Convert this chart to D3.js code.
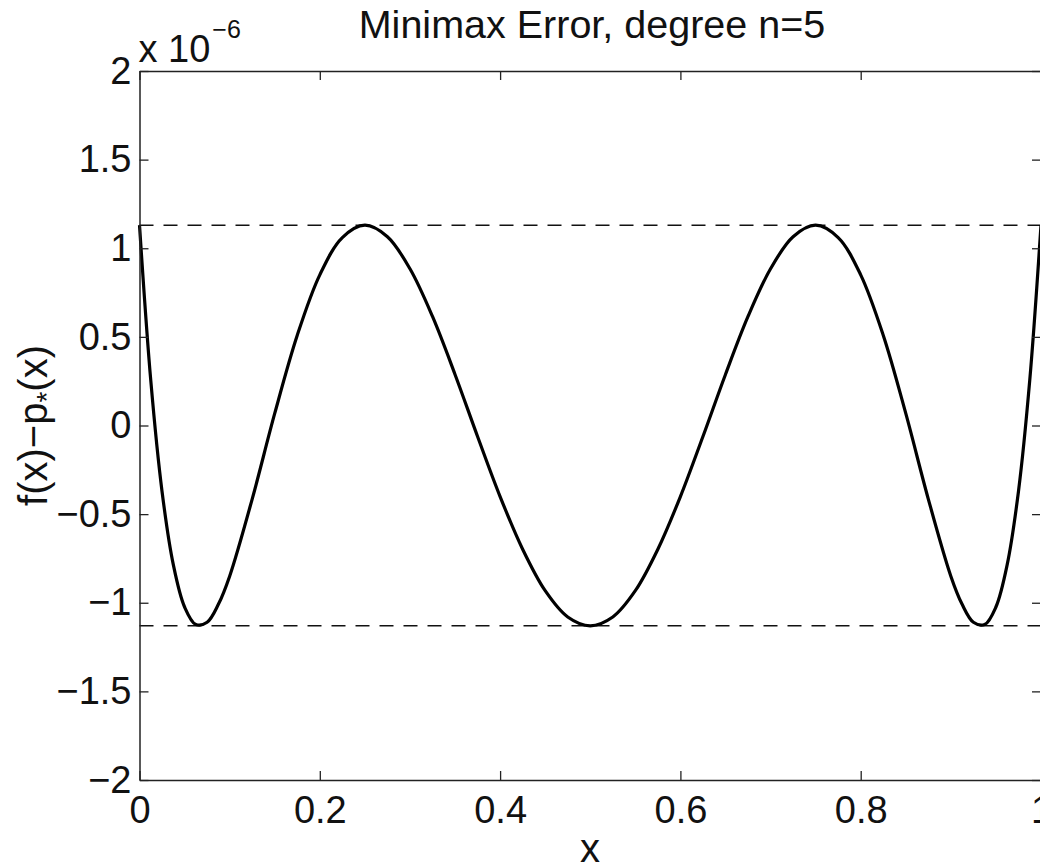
<!DOCTYPE html>
<html>
<head>
<meta charset="utf-8">
<script src="https://cdn.jsdelivr.net/npm/d3@7"></script>
<style>
  body { margin: 0; background: #fff; }
  svg { display: block; font-family: "Liberation Sans", Arial, Helvetica, sans-serif; }
</style>
</head>
<body>
<div id="chart"></div>
<script>
// values in units of 1e-6
const xs = [0, 0.0125, 0.025, 0.0375, 0.05, 0.0625, 0.075, 0.0875, 0.1, 0.125,
  0.15, 0.175, 0.2, 0.225, 0.25, 0.275, 0.3, 0.325, 0.35, 0.375, 0.4, 0.425,
  0.45, 0.475, 0.5, 0.525, 0.55, 0.575, 0.6, 0.625, 0.65, 0.675, 0.7, 0.725,
  0.75, 0.775, 0.8, 0.825, 0.85, 0.875, 0.9, 0.9125, 0.925, 0.9375, 0.95,
  0.9625, 0.975, 0.9875, 1]
const errs = [1.13, 0.254, -0.372, -0.785, -1.024, -1.123, -1.110, -1.009, -0.850, -0.415,
  0.068, 0.509, 0.850, 1.060, 1.13, 1.065, 0.884, 0.615, 0.288, -0.062, -0.401, -0.698,
  -0.932, -1.080, -1.13, -1.080, -0.932, -0.698, -0.401, -0.062, 0.288, 0.615, 0.884, 1.065,
  1.13, 1.060, 0.850, 0.509, 0.068, -0.415, -0.850, -1.009, -1.110, -1.123, -1.024,
  -0.785, -0.372, 0.254, 1.13]
const levels = [1.13, -1.13]
const xTicks = [0, 0.2, 0.4, 0.6, 0.8, 1]
const yTicks = [-2, -1.5, -1, -0.5, 0, 0.5, 1, 1.5, 2]

const width = 1040
const height = 865
const margin = { top: 71, left: 139.5, right: -1, bottom: 85 }

const svg = d3
  .select('#chart')
  .append('svg')
  .attr('width', width)
  .attr('height', height)

svg.append('rect').attr('width', width).attr('height', height).attr('fill', '#fff')

const x = d3.scaleLinear().domain([0, 1]).range([margin.left, width - margin.right])
const y = d3.scaleLinear().domain([-2, 2]).range([height - margin.bottom, margin.top])

const fmt = d3.format('~g')

// dashed bounds
svg
  .selectAll('.level')
  .data(levels)
  .enter()
  .append('line')
  .attr('class', 'level')
  .attr('x1', x(0))
  .attr('x2', x(1))
  .attr('y1', d => y(d))
  .attr('y2', d => y(d))
  .attr('stroke', '#111')
  .attr('stroke-width', 1.4)
  .attr('stroke-dasharray', '14,10')

// error curve
const line = d3
  .line()
  .x((d, i) => x(xs[i]))
  .y(d => y(d))
  .curve(d3.curveCatmullRom.alpha(0.5))

svg
  .append('path')
  .datum(errs)
  .attr('d', line)
  .attr('fill', 'none')
  .attr('stroke', '#000')
  .attr('stroke-width', 3.2)

// axes, ticks pointing inward
function style(g) {
  g.select('.domain').attr('stroke', '#222').attr('stroke-width', 1.5)
  g.selectAll('.tick line').attr('stroke', '#222').attr('stroke-width', 1.3)
  g.selectAll('.tick text').attr('fill', '#111').style('font-size', '38px')
}

svg
  .append('g')
  .attr('transform', `translate(0,${y(-2)})`)
  .call(d3.axisBottom(x).tickValues(xTicks).tickFormat(fmt).tickSize(-9).tickSizeOuter(0).tickPadding(16))
  .call(style)
  .attr('font-family', null)

svg
  .append('g')
  .attr('transform', `translate(0,${y(2)})`)
  .call(d3.axisTop(x).tickValues(xTicks).tickFormat('').tickSize(-9).tickSizeOuter(0))
  .call(style)

svg
  .append('g')
  .attr('transform', `translate(${x(0)},0)`)
  .call(d3.axisLeft(y).tickValues(yTicks).tickFormat(fmt).tickSize(-9).tickSizeOuter(0).tickPadding(8))
  .call(style)
  .attr('font-family', null)

svg
  .append('g')
  .attr('transform', `translate(${x(1)},0)`)
  .call(d3.axisRight(y).tickValues(yTicks).tickFormat('').tickSize(-9).tickSizeOuter(0))
  .call(style)

// exponent label
const expo = svg
  .append('text')
  .attr('x', x(0) - 1)
  .attr('y', 62)
  .attr('fill', '#111')
  .style('font-size', '38px')
expo.append('tspan').text('x 10')
expo.append('tspan').attr('dx', 2).attr('dy', -24).style('font-size', '25px').text('\u22126')

// title
svg
  .append('text')
  .attr('x', 592)
  .attr('y', 38)
  .attr('text-anchor', 'middle')
  .attr('fill', '#111')
  .style('font-size', '39.5px')
  .text('Minimax Error, degree n=5')

// x label
svg
  .append('text')
  .attr('x', 590)
  .attr('y', 862)
  .attr('text-anchor', 'middle')
  .attr('fill', '#111')
  .style('font-size', '40px')
  .text('x')

// y label
const ylab = svg
  .append('text')
  .attr('transform', `translate(47,${y(0)}) rotate(-90)`)
  .attr('text-anchor', 'middle')
  .attr('fill', '#111')
  .style('font-size', '40px')
ylab.append('tspan').text('f(x)\u2212p')
ylab.append('tspan').attr('dy', 9).style('font-size', '28px').text('*')
ylab.append('tspan').attr('dy', -9).text('(x)')
</script>
</body>
</html>
